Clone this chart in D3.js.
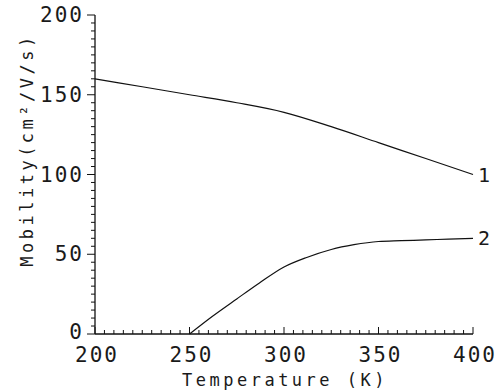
<!DOCTYPE html>
<html>
<head>
<meta charset="utf-8">
<script src="https://cdn.jsdelivr.net/npm/d3@7"></script>
<style>
  body { margin: 0; background: #fff; }
  text { font-family: "DejaVu Sans Mono", monospace; fill: #1a1a1a; }
</style>
</head>
<body>
<div id="chart"></div>
<script>
var temps1 = [200, 225, 250, 275, 300, 325, 350, 375, 400];
var mob1 = [160, 155, 150, 145, 139, 130, 120, 110, 100];
var temps2 = [250, 262, 275, 287, 300, 312, 325, 337, 350, 362, 375, 387, 400];
var mob2 = [0, 11, 22, 32, 42, 48, 53, 56, 58, 58.5, 59, 59.5, 60];
var xTicks = [200, 250, 300, 350, 400];
var yTicks = [0, 50, 100, 150, 200];

var svg = d3.select("#chart").append("svg")
  .attr("width", 496)
  .attr("height", 391);

var x = d3.scaleLinear().domain([200, 400]).range([95, 473]);
var y = d3.scaleLinear().domain([0, 200]).range([334, 15]);

var g = svg.append("g").attr("stroke", "#111").attr("fill", "none");

// axes lines
g.append("line").attr("x1", x(200)).attr("x2", x(200)).attr("y1", y(0)).attr("y2", y(200)).attr("stroke-width", 1.3);
g.append("line").attr("x1", x(200)).attr("x2", x(400)).attr("y1", y(0)).attr("y2", y(0)).attr("stroke-width", 1.3);

// minor ticks every 5
d3.range(200, 401, 5).forEach(function (t) {
  var major = t % 50 === 0;
  g.append("line").attr("x1", x(t)).attr("x2", x(t))
    .attr("y1", y(0)).attr("y2", y(0) - (major ? 7 : 4)).attr("stroke-width", 1);
});
d3.range(0, 201, 5).forEach(function (t) {
  var major = t % 50 === 0;
  g.append("line").attr("x1", x(200)).attr("x2", x(200) - (major ? 8 : 4))
    .attr("y1", y(t)).attr("y2", y(t)).attr("stroke-width", 1);
});

// tick labels
svg.selectAll(".xt").data(xTicks).enter().append("text")
  .attr("x", d => x(d) + 2)
  .attr("y", 362)
  .attr("text-anchor", "middle")
  .attr("font-size", "21px")
  .attr("letter-spacing", "2px")
  .text(d => d);

svg.selectAll(".yt").data(yTicks).enter().append("text")
  .attr("x", 84)
  .attr("y", d => y(d) + (d === 0 ? 5 : 7))
  .attr("text-anchor", "end")
  .attr("font-size", "21px")
  .attr("letter-spacing", "2px")
  .text(d => d);

// axis titles
svg.append("text")
  .attr("x", 285)
  .attr("y", 386)
  .attr("text-anchor", "middle")
  .attr("font-size", "17px")
  .attr("letter-spacing", "3.5px")
  .text("Temperature (K)");

svg.append("text")
  .attr("transform", "translate(33, 150) rotate(-90)")
  .attr("text-anchor", "middle")
  .attr("font-size", "17px")
  .attr("letter-spacing", "3.5px")
  .text("Mobility(cm²/V/s)");

// curves
var line = d3.line().curve(d3.curveMonotoneX).x(d => x(d[0])).y(d => y(d[1]));
g.append("path").attr("d", line(d3.zip(temps1, mob1))).attr("stroke-width", 1.2);
g.append("path").attr("d", line(d3.zip(temps2, mob2))).attr("stroke-width", 1.2);

svg.append("text").attr("x", 478).attr("y", y(100) + 7).attr("font-size", "20px").text("1");
svg.append("text").attr("x", 478).attr("y", y(60) + 7).attr("font-size", "20px").text("2");
</script>
</body>
</html>
